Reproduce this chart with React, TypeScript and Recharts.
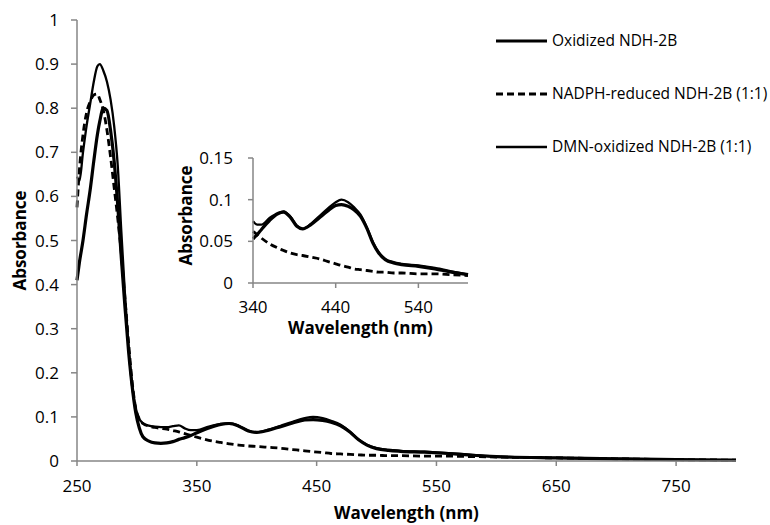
import { LineChart, Line, XAxis, YAxis, Legend, Label } from 'recharts';

// wavelength (nm) sample points shared by all three spectra
const wavelength = [
  250, 252, 255, 258, 261, 264, 267, 269, 272, 275, 278, 281, 284, 287, 290, 293, 296, 299,
  302, 305, 310, 315, 320, 325, 330, 335, 340, 345, 350, 360, 370, 377, 385, 393, 400, 410,
  420, 430, 440, 447, 455, 462, 470, 478, 485, 492, 500, 510, 520, 540, 560, 580, 600, 650,
  700, 750, 800,
];

const oxidized = [
  0.41, 0.45, 0.5, 0.56, 0.615, 0.68, 0.74, 0.77, 0.8, 0.795, 0.75, 0.68, 0.58, 0.46, 0.35, 0.25, 0.17, 0.11,
  0.075, 0.055, 0.045, 0.041, 0.04, 0.041, 0.044, 0.049, 0.053, 0.058, 0.064, 0.075, 0.083, 0.085, 0.079, 0.068, 0.065, 0.07,
  0.078, 0.086, 0.093, 0.094, 0.092, 0.088, 0.08, 0.065, 0.048, 0.036, 0.028, 0.024, 0.022, 0.02, 0.017, 0.013, 0.01, 0.007,
  0.005, 0.003, 0.002,
];

const nadphReduced = [
  0.575, 0.66, 0.74, 0.79, 0.815, 0.83, 0.832, 0.82, 0.795, 0.75, 0.69, 0.62, 0.55, 0.47, 0.37, 0.27, 0.18, 0.12,
  0.095, 0.085, 0.079, 0.076, 0.074, 0.072, 0.069, 0.066, 0.062, 0.058, 0.054, 0.047, 0.042, 0.039, 0.036, 0.034, 0.033, 0.031,
  0.029, 0.026, 0.023, 0.021, 0.019, 0.017, 0.016, 0.015, 0.014, 0.013, 0.013, 0.012, 0.012, 0.011, 0.011, 0.01, 0.009, 0.007,
  0.005, 0.003, 0.002,
];

const dmnOxidized = [
  0.645, 0.635, 0.7, 0.76, 0.81, 0.86, 0.895, 0.9, 0.885, 0.86, 0.82, 0.76, 0.67, 0.52, 0.38, 0.26, 0.17, 0.12,
  0.095, 0.086, 0.08, 0.078, 0.077, 0.077, 0.079, 0.081, 0.074, 0.07, 0.07, 0.078, 0.084, 0.086, 0.08, 0.069, 0.065, 0.071,
  0.08, 0.089, 0.097, 0.1, 0.097, 0.091, 0.082, 0.066, 0.049, 0.037, 0.029, 0.025, 0.023, 0.021, 0.018, 0.014, 0.01, 0.007,
  0.005, 0.003, 0.002,
];

const mainXTicks = [250, 350, 450, 550, 650, 750];
const mainYTicks = [0, 0.1, 0.2, 0.3, 0.4, 0.5, 0.6, 0.7, 0.8, 0.9, 1];
const insetXTicks = [340, 440, 540];
const insetYTicks = [0, 0.05, 0.1, 0.15];

const series = [
  { key: 'oxidized', name: 'Oxidized NDH-2B', width: 3.2, dash: undefined as string | undefined },
  { key: 'nadph', name: 'NADPH-reduced NDH-2B (1:1)', width: 2.8, dash: '7 4' },
  { key: 'dmn', name: 'DMN-oxidized NDH-2B (1:1)', width: 2.3, dash: undefined as string | undefined },
];

const rows = wavelength.map((w, i) => ({
  w,
  oxidized: oxidized[i],
  nadph: nadphReduced[i],
  dmn: dmnOxidized[i],
}));
const insetRows = rows.filter((r) => r.w >= 340 && r.w <= 600);

const AXIS = '#868686';
const fmt = (v: number) => String(Math.round(v * 100) / 100);

const titleStyle = { fontSize: 17, fontWeight: 700, fill: '#000' };

// axis titles, placed from the axis viewBox
const xTitle = (dy: number) => (props: any) => {
  const vb = props.viewBox;
  return (
    <text x={vb.x + vb.width / 2} y={vb.y + dy} textAnchor="middle" style={titleStyle}>
      Wavelength (nm)
    </text>
  );
};

const yTitle = (dx: number, shift: number) => (props: any) => {
  const vb = props.viewBox;
  const cx = vb.x + dx;
  const cy = vb.y + vb.height / 2 + shift;
  return (
    <text x={cx} y={cy} dy="0.35em" textAnchor="middle" transform={`rotate(-90, ${cx}, ${cy})`} style={titleStyle}>
      Absorbance
    </text>
  );
};

const LegendBox = () => {
  const rowY = [16, 69, 122];
  return (
    <svg width={280} height={140}>
      {series.map((s, i) => (
        <g key={s.key}>
          <line x1={6} x2={57} y1={rowY[i]} y2={rowY[i]} stroke="#000" strokeWidth={s.width} strokeDasharray={s.dash} />
          <text x={62} y={rowY[i]} dy="0.35em" fontSize={15.5} fill="#000">
            {s.name}
          </text>
        </g>
      ))}
    </svg>
  );
};

const lines = (data: typeof rows) =>
  series.map((s) => (
    <Line
      key={s.key}
      data={data}
      dataKey={s.key}
      name={s.name}
      type="monotone"
      stroke="#000"
      strokeWidth={s.width}
      strokeDasharray={s.dash}
      dot={false}
      activeDot={false}
      isAnimationActive={false}
    />
  ));

export default function App() {
  return (
    <div
      style={{
        position: 'absolute',
        left: 0,
        top: 0,
        width: 770,
        height: 525,
        background: '#fff',
        fontFamily: '"Open Sans", sans-serif',
      }}
    >
      <LineChart width={770} height={525} data={rows} margin={{ top: 20, right: 34, bottom: 0, left: 0 }}>
        <XAxis
          dataKey="w"
          type="number"
          domain={[250, 800]}
          ticks={mainXTicks}
          interval={0}
          height={64}
          tickSize={5}
          tickMargin={14}
          axisLine={{ stroke: AXIS, strokeWidth: 1.5 }}
          tickLine={{ stroke: AXIS, strokeWidth: 1.5 }}
          tick={{ fill: '#000', fontSize: 17 }}
        >
          <Label content={xTitle(58)} />
        </XAxis>
        <YAxis
          type="number"
          domain={[0, 1]}
          ticks={mainYTicks}
          interval={0}
          width={77}
          tickSize={6}
          tickMargin={12}
          tickFormatter={fmt}
          axisLine={{ stroke: AXIS, strokeWidth: 1.5 }}
          tickLine={{ stroke: AXIS, strokeWidth: 1.5 }}
          tick={{ fill: '#000', fontSize: 17 }}
        >
          <Label content={yTitle(20, 0)} />
        </YAxis>
        <Legend
          layout="vertical"
          align="center"
          verticalAlign="middle"
          wrapperStyle={{ left: 490, top: 25, width: 280, height: 140 }}
          content={<LegendBox />}
        />
        {lines(rows)}
      </LineChart>

      <div style={{ position: 'absolute', left: 170, top: 145 }}>
        <LineChart width={310} height={195} data={insetRows} margin={{ top: 13, right: 12, bottom: 0, left: 0 }}>
          <XAxis
            dataKey="w"
            type="number"
            domain={[340, 600]}
            ticks={insetXTicks}
            interval={0}
            height={57}
            tickSize={5}
            tickMargin={13}
            axisLine={{ stroke: AXIS, strokeWidth: 1.5 }}
            tickLine={{ stroke: AXIS, strokeWidth: 1.5 }}
            tick={{ fill: '#000', fontSize: 17 }}
          >
            <Label content={xTitle(51)} />
          </XAxis>
          <YAxis
            type="number"
            domain={[0, 0.15]}
            ticks={insetYTicks}
            interval={0}
            width={83}
            tickSize={5}
            tickMargin={15}
            tickFormatter={fmt}
            allowDataOverflow
            axisLine={{ stroke: AXIS, strokeWidth: 1.5 }}
            tickLine={{ stroke: AXIS, strokeWidth: 1.5 }}
            tick={{ fill: '#000', fontSize: 17 }}
          >
            <Label content={yTitle(16, -5)} />
          </YAxis>
          {lines(insetRows)}
        </LineChart>
      </div>
    </div>
  );
}
